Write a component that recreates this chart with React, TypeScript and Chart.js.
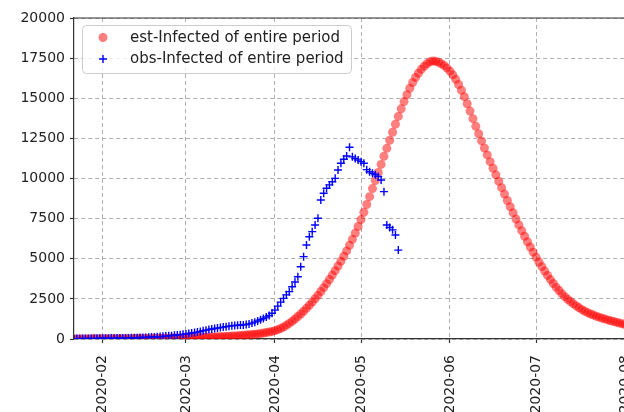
import React, { useEffect, useRef } from 'react';
import { Chart, registerables } from 'chart.js';

Chart.register(...registerables);

// Day index 0 = 2020-01-22
const startDate = '2020-01-22';
const monthTickDays = [10, 39, 70, 100, 131, 161, 192];
const monthTickLabels = ['2020-02', '2020-03', '2020-04', '2020-05', '2020-06', '2020-07', '2020-08'];
const yTickValues = [0, 2500, 5000, 7500, 10000, 12500, 15000, 17500, 20000];

const estLabel = 'est-Infected of entire period';
const obsLabel = 'obs-Infected of entire period';

const estInfected = [
  5, 5, 6, 6, 7, 7, 8, 9, 9, 10,
  11, 12, 13, 14, 15, 16, 17, 18, 20, 21,
  23, 24, 26, 28, 30, 32, 34, 36, 39, 41,
  44, 47, 50, 53, 56, 60, 63, 67, 71, 75,
  80, 85, 90, 95, 100, 106, 112, 118, 124, 131,
  138, 146, 154, 163, 172, 182, 193, 205, 218, 232,
  247, 263, 280, 298, 318, 339, 370, 400, 435, 475,
  520, 580, 655, 745, 850, 970, 1100, 1245, 1400, 1560,
  1730, 1910, 2100, 2300, 2510, 2730, 2960, 3200, 3450, 3710,
  3980, 4260, 4550, 4850, 5160, 5490, 5840, 6210, 6600, 7010,
  7440, 7900, 8380, 8870, 9370, 9870, 10380, 10880, 11380, 11880,
  12380, 12880, 13380, 13870, 14340, 14790, 15220, 15620, 15980, 16290,
  16560, 16800, 16990, 17150, 17270, 17320, 17300, 17240, 17150, 17030,
  16880, 16690, 16460, 16180, 15860, 15500, 15100, 14660, 14200, 13730,
  13250, 12790, 12340, 11900, 11470, 11050, 10640, 10230, 9830, 9430,
  9030, 8630, 8240, 7860, 7480, 7110, 6750, 6400, 6060, 5730,
  5410, 5100, 4800, 4510, 4230, 3960, 3700, 3460, 3230, 3020,
  2820, 2640, 2480, 2330, 2190, 2060, 1940, 1830, 1730, 1640,
  1560, 1490, 1420, 1360, 1300, 1240, 1190, 1140, 1090, 1040,
  990, 950, 900, 860, 820, 780, 740, 710, 680, 650, 620,
];

const obsInfected = [
  20, 25, 25, 30, 30, 35, 35, 40, 40, 45,
  45, 50, 50, 55, 55, 60, 60, 65, 70, 70,
  75, 80, 85, 90, 95, 100, 110, 120, 130, 140,
  150, 165, 180, 195, 210, 230, 250, 270, 290, 310,
  340, 370, 400, 430, 470, 510, 550, 590, 620, 650,
  680, 710, 740, 770, 800, 820, 840, 860, 870, 880,
  900, 940, 990, 1050, 1120, 1200, 1280, 1370, 1460, 1600,
  1800, 2050, 2300, 2530, 2750, 2950, 3260, 3550, 3880, 4500,
  5130, 5860, 6370, 6690, 7100, 7520, 8660, 9080, 9390, 9600,
  9800, 10010, 10530, 10950, 11200, 11400, 11950, 11350, 11250, 11150,
  11050, 10950, 10550, 10420, 10330, 10230, 10120, 9910, 9180, 7100,
  6950, 6800, 6480, 5540,
];

const FONT = 'DejaVu Sans';

const mplLegend = {
  id: 'mplLegend',
  afterDraw(chart: any) {
    const ctx = chart.ctx;
    const a = chart.chartArea;
    ctx.save();
    // top spine
    ctx.strokeStyle = '#333';
    ctx.lineWidth = 1.2;
    ctx.beginPath();
    ctx.moveTo(a.left, a.top);
    ctx.lineTo(a.right, a.top);
    ctx.stroke();

    const x0 = a.left + 8.5;
    const y0 = a.top + 7.5;
    const w = 269;
    const h = 48;
    ctx.beginPath();
    ctx.roundRect(x0, y0, w, h, 4);
    ctx.fillStyle = 'rgba(255,255,255,0.8)';
    ctx.fill();
    ctx.strokeStyle = '#cccccc';
    ctx.lineWidth = 1;
    ctx.stroke();

    const ds = chart.data.datasets;
    const mx = a.left + 29;
    const rows = [a.top + 19.5, a.top + 41];
    ctx.font = `15px "${FONT}"`;
    ctx.textBaseline = 'middle';
    // est marker
    ctx.beginPath();
    ctx.arc(mx, rows[0], 4.5, 0, Math.PI * 2);
    ctx.fillStyle = 'rgba(255,0,0,0.5)';
    ctx.fill();
    // obs marker
    ctx.strokeStyle = '#0000ff';
    ctx.lineWidth = 1.4;
    ctx.beginPath();
    ctx.moveTo(mx - 4, rows[1]);
    ctx.lineTo(mx + 4, rows[1]);
    ctx.moveTo(mx, rows[1] - 4);
    ctx.lineTo(mx, rows[1] + 4);
    ctx.stroke();
    ctx.fillStyle = '#222';
    ctx.fillText(ds[0].label, a.left + 56, rows[0] + 0.5);
    ctx.fillText(ds[1].label, a.left + 56, rows[1] + 0.5);
    ctx.restore();
  },
};

const gridOpts: any = {
  color: '#b0b0b0',
  lineWidth: 1,
  drawTicks: true,
  tickLength: 4,
  tickColor: '#333',
  tickWidth: 1.2,
  tickBorderDash: [],
};

const borderOpts: any = { display: true, color: '#333', width: 1.2, dash: [4, 3] };

export default function App() {
  const ref = useRef<HTMLCanvasElement | null>(null);

  useEffect(() => {
    if (!ref.current) return;
    const chart = new Chart(ref.current, {
      type: 'scatter',
      data: {
        datasets: [
          {
            label: estLabel,
            data: estInfected.map((v, i) => ({ x: i, y: v })),
            pointStyle: 'circle',
            pointRadius: 4.5,
            pointBackgroundColor: 'rgba(255,0,0,0.5)',
            pointBorderWidth: 0,
            borderWidth: 0,
            showLine: false,
            order: 1,
          },
          {
            label: obsLabel,
            data: obsInfected.map((v, i) => ({ x: i, y: v })),
            pointStyle: 'cross',
            pointRadius: 4,
            pointBorderColor: '#0000ff',
            pointBorderWidth: 1.4,
            borderColor: '#0000ff',
            showLine: false,
            order: 0,
          },
        ],
      },
      options: {
        responsive: false,
        animation: false,
        events: [],
        layout: { padding: { top: 18, right: 12, left: 0, bottom: 0 } },
        plugins: {
          legend: { display: false },
          tooltip: { enabled: false },
          title: { display: false },
        },
        scales: {
          x: {
            type: 'linear',
            min: 0,
            max: 200,
            afterFit: (s: any) => { s.height = 73; },
            afterBuildTicks: (s: any) => { s.ticks = monthTickDays.map((v) => ({ value: v })); },
            ticks: {
              autoSkip: false,
              minRotation: 90,
              maxRotation: 90,
              padding: 12,
              color: '#222',
              font: { family: FONT, size: 14 },
              callback: (v: any) => {
                const idx = monthTickDays.indexOf(Number(v));
                return idx >= 0 ? monthTickLabels[idx] : '';
              },
            },
            grid: gridOpts,
            border: borderOpts,
          },
          y: {
            type: 'linear',
            min: 0,
            max: 20000,
            afterFit: (s: any) => { s.width = 74; },
            afterBuildTicks: (s: any) => { s.ticks = yTickValues.map((v) => ({ value: v })); },
            ticks: {
              padding: 5,
              color: '#222',
              font: { family: FONT, size: 14 },
              callback: (v: any) => String(v),
            },
            grid: gridOpts,
            border: borderOpts,
          },
        },
      },
      plugins: [mplLegend],
    });
    return () => chart.destroy();
  }, []);

  return (
    <div
      style={{
        position: 'fixed',
        left: 0,
        top: 0,
        width: 624,
        height: 412,
        overflow: 'hidden',
        background: '#ffffff',
      }}
      data-start={startDate}
    >
      <canvas ref={ref} width={660} height={412} style={{ display: 'block', width: 660, height: 412 }} />
    </div>
  );
}
